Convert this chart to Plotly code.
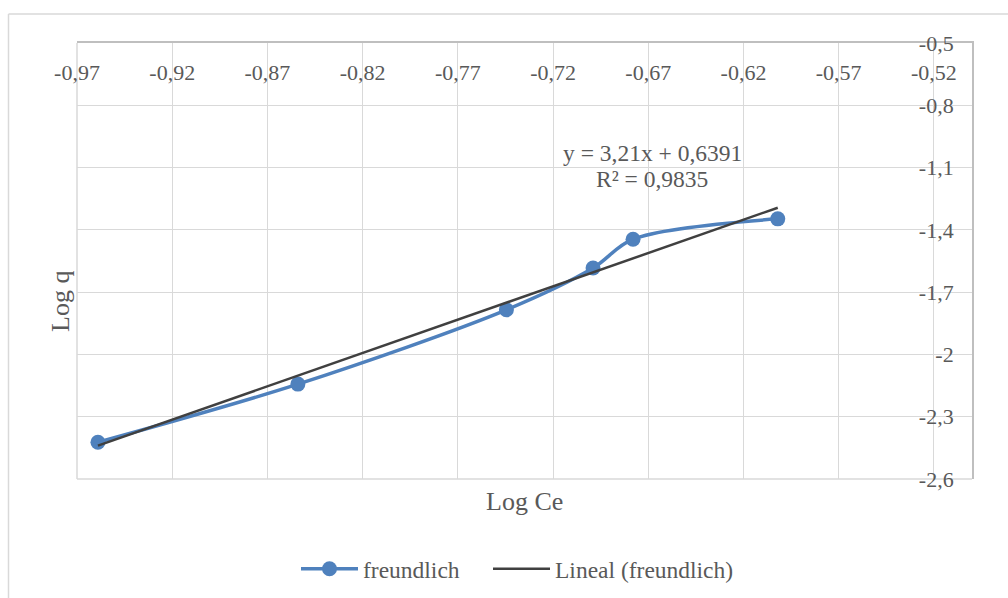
import plotly.graph_objects as go

# Freundlich isotherm: log q versus log Ce
log_ce = [-0.959, -0.854, -0.7445, -0.699, -0.678, -0.602]
log_q = [-2.423, -2.143, -1.785, -1.584, -1.445, -1.347]

# linear trendline reported for the series
slope = 3.21
intercept = 0.6391
r_squared = 0.9835

x_tickvals = [-0.97, -0.92, -0.87, -0.82, -0.77, -0.72, -0.67, -0.62, -0.57, -0.52]
x_ticktext = ["-0,97", "-0,92", "-0,87", "-0,82", "-0,77", "-0,72", "-0,67", "-0,62", "-0,57", "-0,52"]
y_tickvals = [-0.5, -0.8, -1.1, -1.4, -1.7, -2.0, -2.3, -2.6]
y_ticktext = ["-0,5", "-0,8", "-1,1", "-1,4", "-1,7", "-2", "-2,3", "-2,6"]

FONT = "Liberation Serif"
TEXT = "#595959"
GRID = "#d9d9d9"
AXIS = "#bfbfbf"
BLUE = "#4f81bd"

# plot-area geometry in pixels
W, H = 1008, 598
L, R, T, B = 77, 36, 43, 119
pw, ph = W - L - R, H - T - B


def px_x(p):
    return (p - L) / pw


def px_y(p):
    return (H - B - p) / ph


def comma(v, nd):
    return f"{v:.{nd}f}".replace(".", ",")


trend_x = [min(log_ce), max(log_ce)]
trend_y = [slope * v + intercept for v in trend_x]

fig = go.Figure()
fig.add_trace(go.Scatter(
    x=log_ce, y=log_q, name="freundlich", mode="lines+markers",
    line=dict(color=BLUE, width=3.5, shape="spline", smoothing=0.9),
    marker=dict(color=BLUE, size=15), legend="legend",
))
fig.add_trace(go.Scatter(
    x=trend_x, y=trend_y, name="Lineal (freundlich)", mode="lines",
    line=dict(color="#404040", width=2.5), legend="legend2",
))

legend_style = dict(
    orientation="h", y=px_y(569), xanchor="left", yanchor="middle",
    font=dict(size=23.5, color=TEXT), itemwidth=57,
    bgcolor="rgba(0,0,0,0)",
)

fig.update_layout(
    width=W, height=H,
    margin=dict(l=L, r=R, t=T, b=B, autoexpand=False),
    paper_bgcolor="white", plot_bgcolor="white",
    font=dict(family=FONT, color=TEXT, size=22),
    showlegend=True,
    legend=dict(x=px_x(296), **legend_style),
    legend2=dict(x=px_x(488), **legend_style),
    hovermode=False,
)

fig.update_xaxes(
    range=[-0.97, -0.5], side="top",
    tickvals=x_tickvals, ticktext=x_ticktext,
    ticklabelposition="inside", ticklabeloverflow="allow",
    ticks="", ticklabelstandoff=23,
    showgrid=True, gridcolor=GRID, gridwidth=1,
    showline=True, linecolor=AXIS, linewidth=1.5,
    zeroline=False, tickfont=dict(size=22, color=TEXT),
)
fig.update_yaxes(
    range=[-2.6, -0.5], side="right",
    tickvals=y_tickvals, ticktext=y_ticktext,
    ticklabelposition="inside", ticklabeloverflow="allow",
    ticks="", ticklabelstandoff=20,
    showgrid=True, gridcolor=GRID, gridwidth=1,
    showline=True, linecolor=AXIS, linewidth=1.5,
    zeroline=False, tickfont=dict(size=22, color=TEXT),
)

# gridlines along the left and bottom edges of the plot area
fig.add_shape(type="line", xref="paper", yref="paper", layer="below",
              x0=0, x1=0, y0=0, y1=1, line=dict(color=GRID, width=1.5))
fig.add_shape(type="line", xref="paper", yref="paper", layer="below",
              x0=0, x1=1, y0=0, y1=0, line=dict(color=GRID, width=1.5))

# axis titles
fig.add_annotation(text="Log Ce", xref="paper", yref="paper",
                   x=px_x(524), y=px_y(501), showarrow=False,
                   xanchor="center", yanchor="middle",
                   font=dict(size=26, color=TEXT))
fig.add_annotation(text="Log q", xref="paper", yref="paper",
                   x=px_x(60), y=px_y(302), showarrow=False, textangle=-90,
                   xanchor="center", yanchor="middle",
                   font=dict(size=26, color=TEXT))

# trendline equation and R²
fig.add_annotation(text=f"y = {comma(slope, 2)}x + {comma(intercept, 4)}",
                   xref="paper", yref="paper", x=px_x(652), y=px_y(153),
                   showarrow=False, xanchor="center", yanchor="middle",
                   font=dict(size=23.5, color=TEXT))
fig.add_annotation(text=f"R² = {comma(r_squared, 4)}",
                   xref="paper", yref="paper", x=px_x(652), y=px_y(179),
                   showarrow=False, xanchor="center", yanchor="middle",
                   font=dict(size=23.5, color=TEXT))

# chart-area border (left and top edges)
fig.add_shape(type="line", xref="paper", yref="paper",
              x0=px_x(8.5), x1=px_x(8.5), y0=px_y(14), y1=px_y(620),
              line=dict(color=GRID, width=1.5))
fig.add_shape(type="line", xref="paper", yref="paper",
              x0=px_x(8.5), x1=px_x(1030), y0=px_y(14), y1=px_y(14),
              line=dict(color=GRID, width=1.5))

fig.write_html("out.html", config=dict(displayModeBar=False))
